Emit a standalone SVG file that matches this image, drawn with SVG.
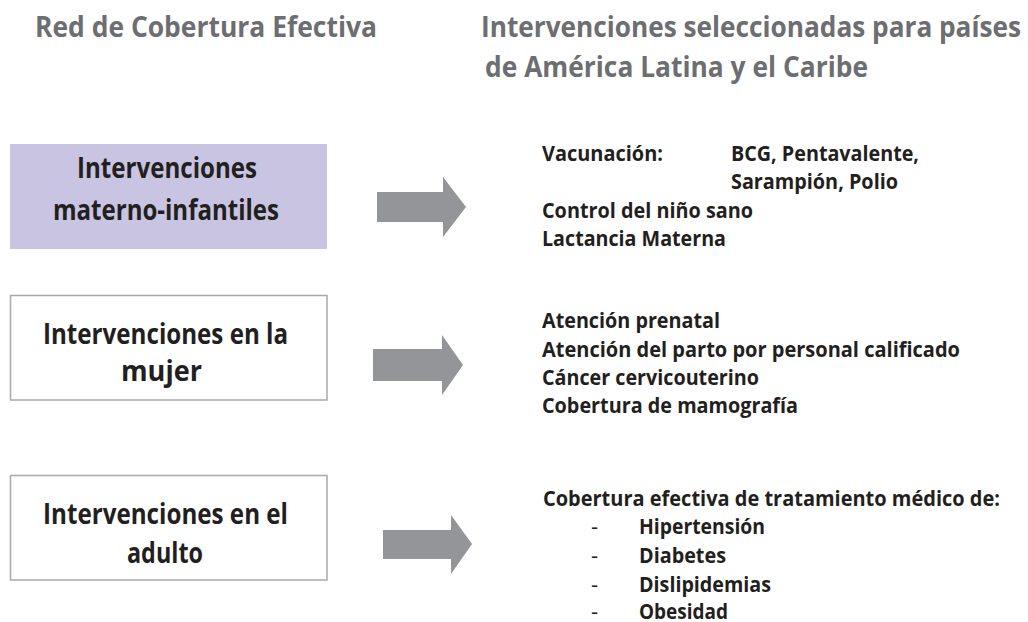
<svg xmlns="http://www.w3.org/2000/svg" width="1028" height="622" viewBox="0 0 1028 622">
<style>
text{font-family:"Open Sans","Noto Sans","Liberation Sans",sans-serif;font-weight:bold}
.title{font-size:29px;fill:#6d6e71}
.box{stroke:#a7a9ac;stroke-width:1.5;fill:#ffffff}
.box1{fill:#c8c4e2;stroke:none}
.bt{font-size:28px;fill:#231f20}
.rt{font-size:22px;fill:#231f20}
.dash{font-size:22px;fill:#231f20;font-weight:normal}
.arrow{fill:#939598}
</style>
<rect width="1028" height="622" fill="#ffffff"/>
<g id="titles">
<text class="title" x="35" y="37" textLength="342" lengthAdjust="spacingAndGlyphs">Red de Cobertura Efectiva</text>
<text class="title" x="481" y="37" textLength="540" lengthAdjust="spacingAndGlyphs">Intervenciones seleccionadas para países</text>
<text class="title" x="485" y="77" textLength="383" lengthAdjust="spacingAndGlyphs">de América Latina y el Caribe</text>
</g>
<g id="node-materno">
<rect class="box1" x="10" y="144" width="317" height="105"/>
<text class="bt" x="77" y="178" textLength="180" lengthAdjust="spacingAndGlyphs">Intervenciones</text>
<text class="bt" x="53" y="220" textLength="226" lengthAdjust="spacingAndGlyphs">materno-infantiles</text>
</g>
<g id="node-mujer">
<rect class="box" x="10.5" y="295.5" width="316.5" height="104.5"/>
<text class="bt" x="43" y="344" textLength="245" lengthAdjust="spacingAndGlyphs">Intervenciones en la</text>
<text class="bt" x="121" y="381" textLength="81" lengthAdjust="spacingAndGlyphs">mujer</text>
</g>
<g id="node-adulto">
<rect class="box" x="10.5" y="475.5" width="316.5" height="104.5"/>
<text class="bt" x="43" y="524" textLength="245" lengthAdjust="spacingAndGlyphs">Intervenciones en el</text>
<text class="bt" x="127" y="563" textLength="76" lengthAdjust="spacingAndGlyphs">adulto</text>
</g>
<g id="list-materno">
<text class="rt" x="542" y="161" textLength="121" lengthAdjust="spacingAndGlyphs">Vacunación:</text>
<text class="rt" x="731" y="161" textLength="188" lengthAdjust="spacingAndGlyphs">BCG, Pentavalente,</text>
<text class="rt" x="731" y="189" textLength="167" lengthAdjust="spacingAndGlyphs">Sarampión, Polio</text>
<text class="rt" x="542" y="218" textLength="211" lengthAdjust="spacingAndGlyphs">Control del niño sano</text>
<text class="rt" x="542" y="246" textLength="184" lengthAdjust="spacingAndGlyphs">Lactancia Materna</text>
</g>
<g id="list-mujer">
<text class="rt" x="542" y="328" textLength="178" lengthAdjust="spacingAndGlyphs">Atención prenatal</text>
<text class="rt" x="542" y="357" textLength="418" lengthAdjust="spacingAndGlyphs">Atención del parto por personal calificado</text>
<text class="rt" x="542" y="385" textLength="217" lengthAdjust="spacingAndGlyphs">Cáncer cervicouterino</text>
<text class="rt" x="542" y="413" textLength="256" lengthAdjust="spacingAndGlyphs">Cobertura de mamografía</text>
</g>
<g id="list-adulto">
<text class="rt" x="543" y="506" textLength="457" lengthAdjust="spacingAndGlyphs">Cobertura efectiva de tratamiento médico de:</text>
<text class="dash" x="591" y="534">-</text>
<text class="dash" x="591" y="563">-</text>
<text class="dash" x="591" y="592">-</text>
<text class="dash" x="591" y="619">-</text>
<text class="rt" x="639" y="534" textLength="126" lengthAdjust="spacingAndGlyphs">Hipertensión</text>
<text class="rt" x="639" y="563" textLength="87" lengthAdjust="spacingAndGlyphs">Diabetes</text>
<text class="rt" x="639" y="592" textLength="132" lengthAdjust="spacingAndGlyphs">Dislipidemias</text>
<text class="rt" x="639" y="619" textLength="89" lengthAdjust="spacingAndGlyphs">Obesidad</text>
</g>
<g id="connectors">
<polygon class="arrow" points="377,192 443,192 443,177 466,207 443,237 443,222 377,222"/>
<polygon class="arrow" points="373,349 442,349 442,335 463,365 442,395 442,381 373,381"/>
<polygon class="arrow" points="383,530 451,530 451,515 472,544 451,574 451,559 383,559"/>
</g>
</svg>
